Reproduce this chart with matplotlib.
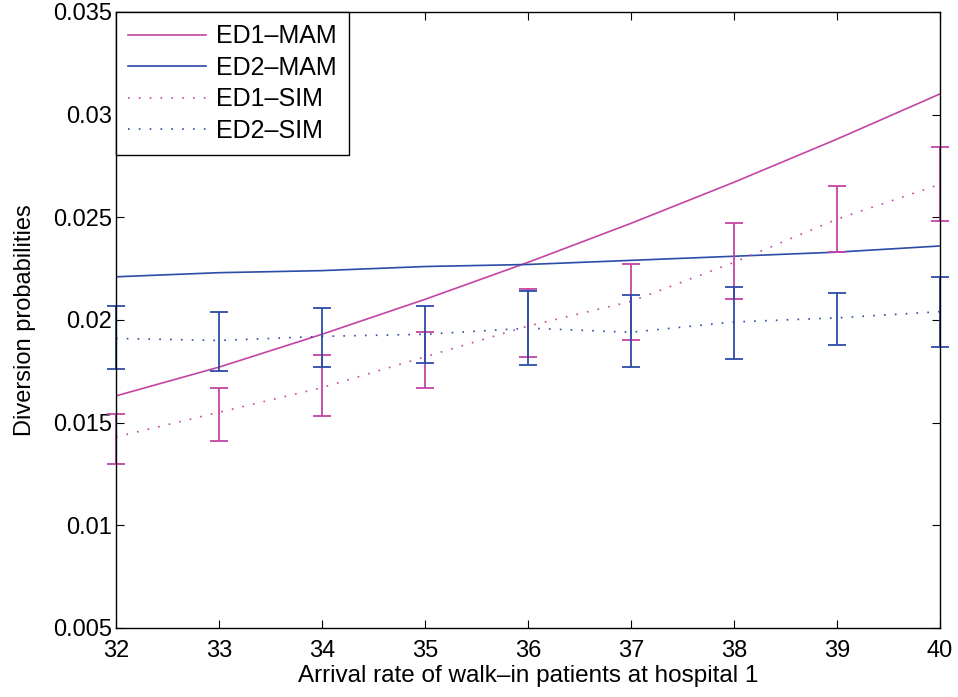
import matplotlib.pyplot as plt
import numpy as np

plt.rcParams['font.family'] = ['Liberation Sans', 'DejaVu Sans']

rates = [32, 33, 34, 35, 36, 37, 38, 39, 40]

# analytical (MAM) curves
ed1_mam = [0.0163, 0.0177, 0.0193, 0.0210, 0.0228, 0.0247, 0.0267, 0.0288, 0.0310]
ed2_mam = [0.0221, 0.0223, 0.0224, 0.0226, 0.0227, 0.0229, 0.0231, 0.0233, 0.0236]

# simulation means
ed1_sim = [0.0143, 0.0155, 0.0167, 0.0182, 0.0197, 0.0209, 0.0228, 0.0249, 0.0266]
ed2_sim = [0.0191, 0.0190, 0.0192, 0.0193, 0.0196, 0.0194, 0.0199, 0.0201, 0.0204]

# simulation confidence intervals
ed1_lo = [0.0130, 0.0141, 0.0153, 0.0167, 0.0182, 0.0190, 0.0210, 0.0233, 0.0248]
ed1_hi = [0.0154, 0.0167, 0.0183, 0.0194, 0.0215, 0.0227, 0.0247, 0.0265, 0.0284]
ed2_lo = [0.0176, 0.0175, 0.0177, 0.0179, 0.0178, 0.0177, 0.0181, 0.0188, 0.0187]
ed2_hi = [0.0207, 0.0204, 0.0206, 0.0207, 0.0214, 0.0212, 0.0216, 0.0213, 0.0221]

mag = '#c444a4'
blu = '#2c4ca8'

fig = plt.figure(figsize=(9.58, 6.97), dpi=100)
ax = fig.add_axes([0.121, 0.099, 0.860, 0.884])

ax.plot(rates, ed1_mam, color=mag, lw=1.2, label='ED1\u2013MAM')
ax.plot(rates, ed2_mam, color=blu, lw=1.2, label='ED2\u2013MAM')
ax.plot(rates, ed1_sim, color=mag, lw=1.2, ls=(0, (1, 5.5)), label='ED1\u2013SIM')
ax.plot(rates, ed2_sim, color=blu, lw=1.2, ls=(0, (1, 5.5)), label='ED2\u2013SIM')

for lo, hi, c in [(ed1_lo, ed1_hi, mag), (ed2_lo, ed2_hi, blu)]:
    lo = np.array(lo)
    hi = np.array(hi)
    mid = (lo + hi) / 2
    ax.errorbar(rates, mid, yerr=(hi - lo) / 2, fmt='none', ecolor=c,
                elinewidth=1.3, capsize=6.5, capthick=1.3, clip_on=False)

ax.set_xlim(32, 40)
ax.set_ylim(0.005, 0.035)
ax.set_xticks(rates)
ax.set_yticks([0.005, 0.01, 0.015, 0.02, 0.025, 0.03, 0.035])
ax.set_yticklabels(['0.005', '0.01', '0.015', '0.02', '0.025', '0.03', '0.035'])
ax.tick_params(direction='in', top=True, right=True, length=6, labelsize=17)
ax.tick_params(axis='x', pad=9)
ax.tick_params(axis='y', pad=3)
for s in ax.spines.values():
    s.set_linewidth(1.0)

ax.set_xlabel('Arrival rate of walk\u2013in patients at hospital 1', fontsize=17.5, labelpad=2)
ax.set_ylabel('Diversion probabilities', fontsize=17, labelpad=12)

leg = ax.legend(loc='upper left', fontsize=18, handlelength=3.1, handletextpad=0.4,
                borderaxespad=0, borderpad=0.5, fancybox=False, edgecolor='black',
                framealpha=1, labelspacing=0.3)
leg.get_frame().set_linewidth(1.0)

fig.savefig('out.png', dpi=100)
